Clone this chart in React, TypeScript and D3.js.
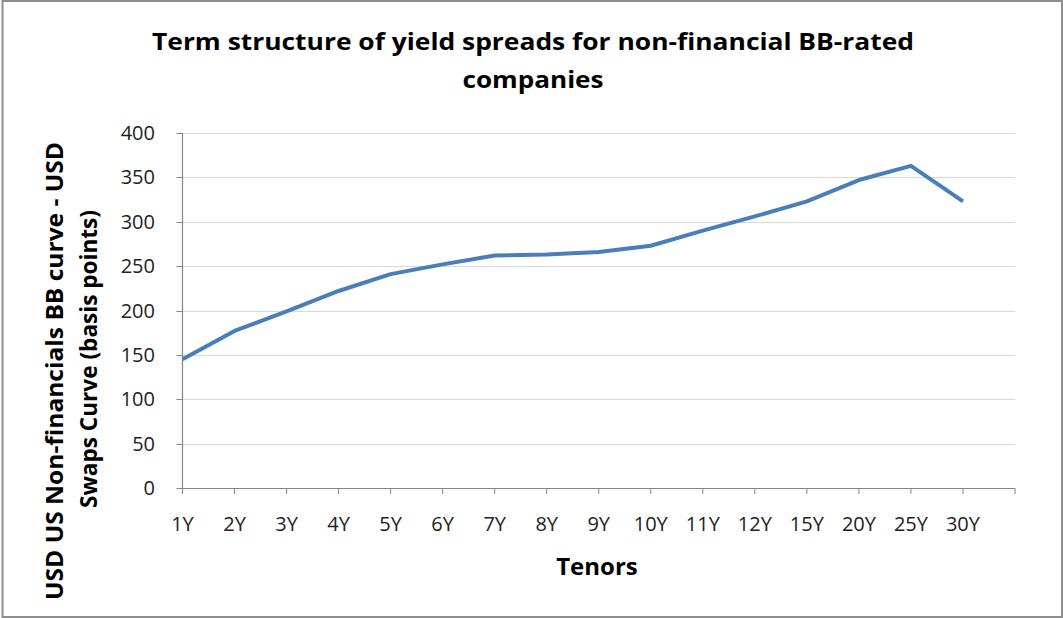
import React from 'react';
import * as d3 from 'd3';

// chart data
const tenors = ['1Y', '2Y', '3Y', '4Y', '5Y', '6Y', '7Y', '8Y', '9Y', '10Y', '11Y', '12Y', '15Y', '20Y', '25Y', '30Y'];
const spreads = [145, 177, 199, 222, 241, 252, 262, 263, 266, 273, 290, 306, 323, 347, 363, 323];
const yTicks = [0, 50, 100, 150, 200, 250, 300, 350, 400];

const W = 1063;
const H = 618;
const font = '"Open Sans", "Liberation Sans", sans-serif';

const App: React.FC = () => {
  const margin = { top: 133, right: 48, bottom: 130, left: 182.5 };

  // Excel-style category axis: points sit on the tick marks, one spare slot at the end
  const x = d3.scaleLinear()
    .domain([0, tenors.length])
    .range([margin.left, W - margin.right]);

  const y = d3.scaleLinear()
    .domain([0, 400])
    .range([H - margin.bottom, margin.top]);

  const line = d3.line<number>()
    .x((_, i) => x(i))
    .y(d => y(d));

  const x0 = x(0);
  const x1 = x(tenors.length);
  const y0 = y(0);

  return (
    <svg width={W} height={H} style={{ position: 'absolute', left: 0, top: 0, background: '#fff' }}>
      <rect x={2.5} y={1} width={W - 3.5} height={H - 2} fill="#fff" stroke="#8e8e8e" strokeWidth={2} />

      {/* title */}
      <text x={533} y={50} textAnchor="middle" fontFamily={font} fontWeight="bold" fontSize={24}
        textLength={762} lengthAdjust="spacingAndGlyphs" fill="#000">
        Term structure of yield spreads for non-financial  BB-rated
      </text>
      <text x={533} y={88} textAnchor="middle" fontFamily={font} fontWeight="bold" fontSize={24}
        textLength={141} lengthAdjust="spacingAndGlyphs" fill="#000">
        companies
      </text>

      {/* gridlines */}
      {yTicks.filter(t => t > 0).map(t => (
        <line key={t} x1={x0} x2={x1} y1={Math.round(y(t)) + 0.5} y2={Math.round(y(t)) + 0.5}
          stroke="#d9d9d9" strokeWidth={1} />
      ))}

      {/* y axis */}
      <line x1={x0} x2={x0} y1={y(400)} y2={y0} stroke="#868686" strokeWidth={1.2} />
      {yTicks.map(t => (
        <g key={t}>
          <line x1={x0 - 6} x2={x0} y1={Math.round(y(t)) + 0.5} y2={Math.round(y(t)) + 0.5} stroke="#868686" />
          <text x={155} y={y(t) + 7} textAnchor="end" fontFamily={font} fontSize={20} fill="#222">{t}</text>
        </g>
      ))}

      {/* x axis */}
      <line x1={x0} x2={x1} y1={y0 + 0.5} y2={y0 + 0.5} stroke="#868686" strokeWidth={1.2} />
      {d3.range(tenors.length + 1).map(i => (
        <line key={i} x1={x(i)} x2={x(i)} y1={y0} y2={y0 + 6} stroke="#868686" />
      ))}
      {tenors.map((t, i) => (
        <text key={t} x={x(i)} y={531} textAnchor="middle" fontFamily={font} fontSize={20} fill="#222">{t}</text>
      ))}

      <text x={597} y={575} textAnchor="middle" fontFamily={font} fontWeight="bold" fontSize={24} fill="#000">
        Tenors
      </text>

      {/* y axis title, two lines */}
      <text transform="translate(63,371) rotate(-90)" textAnchor="middle" fontFamily={font} fontWeight="bold"
        fontSize={23} textLength={458} lengthAdjust="spacingAndGlyphs" fill="#000">
        USD US Non-financials BB curve - USD
      </text>
      <text transform="translate(97,359) rotate(-90)" textAnchor="middle" fontFamily={font} fontWeight="bold"
        fontSize={23} textLength={298} lengthAdjust="spacingAndGlyphs" fill="#000">
        Swaps Curve (basis points)
      </text>

      {/* series */}
      <path d={line(spreads) ?? ''} fill="none" stroke="#4a7ebb" strokeWidth={4} strokeLinejoin="round" />
    </svg>
  );
};

export default App;
